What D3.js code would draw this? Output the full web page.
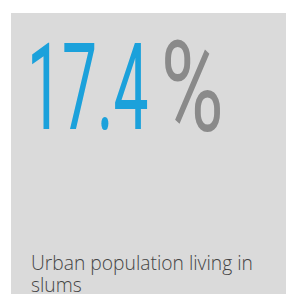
<!DOCTYPE html>
<html><head><meta charset="utf-8">
<script src="https://cdn.jsdelivr.net/npm/d3@7"></script>
<style>html,body{margin:0;padding:0;background:#fff;overflow:hidden}</style>
</head><body>
<svg id="c" width="286" height="294"></svg>
<script>
// Data
const value = 17.4;
const valueLabel = ["17.4"];
const unitLabel = ["%"];
const captionLines = ["Urban population living in", "slums"];

const svg = d3.select("#c");
const W = 286, H = 294;
svg.append("rect").attr("x", 11).attr("y", 13).attr("width", W - 11).attr("height", H - 13).attr("fill", "#dadada");

const ctx = document.createElement("canvas").getContext("2d");
function fitText(str, font, weight, box, color) {
  const base = 100;
  ctx.font = `${weight} ${base}px ${font}`;
  const m = ctx.measureText(str);
  const inkW = m.actualBoundingBoxLeft + m.actualBoundingBoxRight;
  const inkH = m.actualBoundingBoxAscent + m.actualBoundingBoxDescent;
  const fs = base * box.h / inkH;
  const k = fs / base;
  const sx = box.w / (inkW * k);
  const baseline = box.y + m.actualBoundingBoxAscent * k;
  const x = box.x + m.actualBoundingBoxLeft * k * sx;
  svg.append("text").text(str)
    .attr("transform", `translate(${x},${baseline}) scale(${sx},1)`)
    .attr("font-family", font).attr("font-weight", weight)
    .attr("font-size", fs).attr("fill", color);
}
fitText(d3.format(".1f")(value) === valueLabel[0] ? valueLabel[0] : String(value), "Roboto", 400, {x: 32, y: 42, w: 115, h: 88}, "#1ba1db");
fitText(unitLabel[0], "Roboto", 400, {x: 165, y: 40, w: 55, h: 92}, "#8a8a8a");

const cap = svg.append("g").attr("font-family", "Open Sans").attr("fill", "#454545");
const fsz = 17.5;
cap.selectAll("text").data(captionLines).join("text")
  .attr("x", 31).attr("y", (d, i) => 270 + i * 21.5)
  .attr("font-size", fsz).attr("font-weight", 300)
  .text(d => d);
// fit width of first line
const t0 = cap.select("text").node();
const wNow = t0.getComputedTextLength();
const scaleF = 222 / wNow;
cap.selectAll("text").attr("font-size", fsz * scaleF);
</script>
</body></html>
